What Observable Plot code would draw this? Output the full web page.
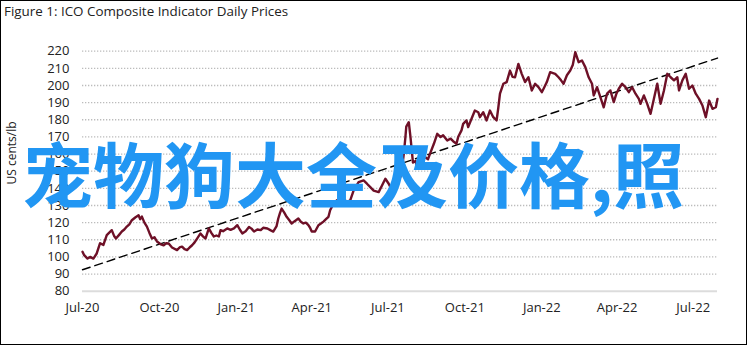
<!DOCTYPE html>
<html>
<head>
<meta charset="utf-8">
<script src="https://cdn.jsdelivr.net/npm/d3@7"></script>
<script src="https://cdn.jsdelivr.net/npm/@observablehq/plot@0.6"></script>
<style>
  html, body { margin: 0; padding: 0; background: #fff; }
  #wrap { position: relative; width: 748px; height: 346px; overflow: hidden; }
  #frame { position: absolute; left: 0; top: 0; width: 745px; height: 343px; border: 1px solid #000; box-sizing: content-box; pointer-events: none; }
  #title { position: absolute; left: 4px; top: 2px; font-family: "Open Sans", sans-serif; font-size: 13.4px; color: #222; white-space: nowrap; }
  #ylabel { position: absolute; left: 11px; top: 153px; transform: translate(-50%, -50%) rotate(-90deg); font-family: "Open Sans", sans-serif; font-size: 12px; color: #222; white-space: nowrap; }
  #chart { position: absolute; left: 0; top: 0; }
  #wm { position: absolute; left: 22px; top: 136px; font-family: "Noto Sans CJK SC", sans-serif; font-weight: bold; font-size: 71px; line-height: 1; color: #2196f3; white-space: nowrap; }
</style>
</head>
<body>
<div id="wrap">
  <div id="chart"></div>
  <div id="title">Figure 1: ICO Composite Indicator Daily Prices</div>
  <div id="ylabel">US cents/lb</div>
  <div id="wm">宠物狗大全及价格,照</div>
  <div id="frame"></div>
</div>
<script>
const priceDates = [
"2020-07-01","2020-07-03","2020-07-07","2020-07-10","2020-07-14","2020-07-18","2020-07-22","2020-07-26","2020-07-30","2020-08-05",
"2020-08-08","2020-08-10","2020-08-14","2020-08-17","2020-08-20","2020-08-23","2020-08-26","2020-08-29","2020-09-02","2020-09-06",
"2020-09-08","2020-09-10","2020-09-13","2020-09-16","2020-09-19","2020-09-22","2020-09-25","2020-09-28","2020-10-02","2020-10-06",
"2020-10-09","2020-10-12","2020-10-16","2020-10-22","2020-10-25","2020-10-28","2020-10-31","2020-11-03","2020-11-06","2020-11-09",
"2020-11-12","2020-11-15","2020-11-19","2020-11-22","2020-11-25","2020-11-29","2020-12-02","2020-12-05","2020-12-08","2020-12-11",
"2020-12-13","2020-12-16","2020-12-21","2020-12-25","2020-12-29","2021-01-02","2021-01-05","2021-01-08","2021-01-12","2021-01-16",
"2021-01-19","2021-01-22","2021-01-26","2021-01-30","2021-02-02","2021-02-07","2021-02-11","2021-02-14","2021-02-18","2021-02-20",
"2021-02-22","2021-02-24","2021-02-27","2021-03-02","2021-03-05","2021-03-08","2021-03-12","2021-03-16","2021-03-19","2021-03-22",
"2021-03-25","2021-03-28","2021-03-30","2021-04-01","2021-04-05","2021-04-09","2021-04-12","2021-04-15","2021-04-18","2021-04-21",
"2021-04-23","2021-04-27","2021-05-01","2021-05-05","2021-05-09","2021-05-13","2021-05-17","2021-05-21","2021-05-27","2021-06-02",
"2021-06-06","2021-06-10","2021-06-14","2021-06-20","2021-06-24","2021-06-28","2021-07-02","2021-07-06","2021-07-10","2021-07-13",
"2021-07-17","2021-07-20","2021-07-22","2021-07-23","2021-07-26","2021-07-28","2021-07-30","2021-07-31","2021-08-03","2021-08-05",
"2021-08-09","2021-08-12","2021-08-15","2021-08-18","2021-08-21","2021-08-25","2021-08-29","2021-09-02","2021-09-05","2021-09-10",
"2021-09-14","2021-09-17","2021-09-21","2021-09-23","2021-09-27","2021-09-29","2021-10-03","2021-10-05","2021-10-09","2021-10-13",
"2021-10-17","2021-10-19","2021-10-23","2021-10-27","2021-10-31","2021-11-04","2021-11-08","2021-11-10","2021-11-12","2021-11-16",
"2021-11-20","2021-11-24","2021-11-27","2021-11-30","2021-12-04","2021-12-08","2021-12-12","2021-12-16","2021-12-20","2021-12-24",
"2021-12-28","2022-01-01","2022-01-04","2022-01-07","2022-01-11","2022-01-17","2022-01-21","2022-01-24","2022-01-27","2022-01-31",
"2022-02-04","2022-02-07","2022-02-10","2022-02-14","2022-02-18","2022-02-22","2022-02-26","2022-03-02","2022-03-04","2022-03-08",
"2022-03-12","2022-03-16","2022-03-20","2022-03-24","2022-03-28","2022-03-31","2022-04-03","2022-04-07","2022-04-11","2022-04-15",
"2022-04-19","2022-04-23","2022-04-27","2022-04-29","2022-05-03","2022-05-07","2022-05-11","2022-05-15","2022-05-19","2022-05-23",
"2022-05-27","2022-05-31","2022-06-04","2022-06-08","2022-06-12","2022-06-14","2022-06-18","2022-06-22","2022-06-26","2022-06-30",
"2022-07-04","2022-07-08","2022-07-12","2022-07-16","2022-07-20","2022-07-24","2022-07-28","2022-07-30"
];
const priceValues = [
103,101,99,100,99,102,108,107,112.7,115.6,
112,110.7,113,114.8,116,117.7,119,121.4,123,124.3,
122,123.5,120,117.7,114,110.7,111.5,109,107.5,106.8,
108,107.8,105.5,104,105.5,106,104.5,104,105.5,106.8,
108.5,110.7,113.7,112,110.7,116.6,114,111.9,112.5,111.9,
115.6,115,116.6,115.8,116.6,118.5,116,113.7,115,117.5,
116.5,114.8,116,115.6,117,116.6,115.5,114.8,118,122.4,
125.5,128.2,126,123.4,121.5,119.5,121,122.4,120.5,119.5,
120,118.5,117,114.8,114.8,118.5,119.5,120.6,122,123.4,
127.2,131,133,131.5,134,132,133,138.7,143.6,144.6,
142.7,140.7,138.7,137.8,141.7,145.6,142.7,138.7,139,143,
148,160,170,176,178.6,170,160,155,156,152.3,
156,161,158,157,161,166,171.8,169.9,171,167.9,
169,167.5,166,169.9,173.8,177.6,179.6,175.7,180.6,185.4,
184.4,181.5,184.4,179.6,185.4,181.5,179.6,187,195.2,201,
202,208.7,205,204.8,212.6,206.8,202,204.8,197.1,201,
199,196.1,199,202,207.8,206.8,204.8,203,201,206,
208.7,212,219.4,213.6,214.6,210.7,204.8,201,194.2,199,
193.2,187.3,195.2,197.1,190.3,195,198.1,201,199,196.1,
199,195.2,192.2,189.3,194.2,189.3,183.5,192.2,201,189.3,
197.1,206.8,204.8,203,204.8,197.1,203,206.8,198.1,200,
195.2,192.2,188.3,181.5,191.2,186.4,187.3,192.2
];
const trendDates = ["2020-07-01", "2022-07-30"];
const trendValues = [92.5, 216];
const yTicks = [80, 90, 100, 110, 120, 130, 140, 150, 160, 170, 180, 190, 200, 210, 220];
const xTickDates = ["2020-07-01","2020-10-01","2021-01-01","2021-04-01","2021-07-01","2021-10-01","2022-01-01","2022-04-01","2022-07-01"];
const xTickLabels = ["Jul-20","Oct-20","Jan-21","Apr-21","Jul-21","Oct-21","Jan-22","Apr-22","Jul-22"];

const price = priceDates.map((d, i) => ({date: new Date(d), value: priceValues[i]}));
const trend = trendDates.map((d, i) => ({date: new Date(d), value: trendValues[i]}));
const xTicks = xTickDates.map(d => new Date(d));
const labelMap = new Map(xTicks.map((d, i) => [+d, xTickLabels[i]]));

const chart = Plot.plot({
  width: 748,
  height: 346,
  marginLeft: 82,
  marginRight: 31,
  marginTop: 50.7,
  marginBottom: 55.3,
  style: {fontFamily: "Open Sans, sans-serif", fontSize: "13px", color: "#222", background: "transparent"},
  x: {type: "utc", domain: [new Date("2020-07-01"), new Date("2022-07-30")]},
  y: {domain: [80, 220]},
  marks: [
    Plot.ruleY(yTicks.filter(t => t > 80), {stroke: "#bcbcbc", strokeWidth: 1.3, strokeDasharray: "1.3,1.7"}),
    Plot.ruleY([80], {stroke: "#dcdcdc", strokeWidth: 2}),
    Plot.axisY({ticks: yTicks, tickSize: 0, tickPadding: 13, label: null, fill: "#222"}),
    Plot.axisX({ticks: xTicks, tickFormat: d => labelMap.get(+d), tickSize: 0, tickPadding: 12, label: null, fill: "#222"}),
    Plot.line(trend, {x: "date", y: "value", stroke: "#000", strokeWidth: 1.4, strokeDasharray: "8,5"}),
    Plot.line(price, {x: "date", y: "value", stroke: "#6e1027", strokeWidth: 2.4})
  ]
});
document.getElementById("chart").appendChild(chart);
</script>
</body>
</html>
